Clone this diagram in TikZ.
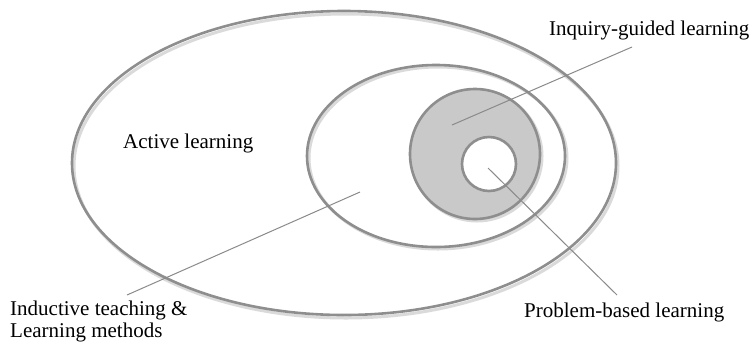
\documentclass[tikz,border=0pt]{standalone}
\usepackage{fontspec}
\setmainfont{Liberation Serif}
\definecolor{ringgray}{HTML}{8E8E8E}
\definecolor{shadowgray}{HTML}{DADADA}
\definecolor{fillgray}{HTML}{C9C9C9}
\definecolor{leadgray}{HTML}{8A8A8A}
\begin{document}
\begin{tikzpicture}[x=1pt,y=-1pt,
  ring/.style={draw=ringgray,line width=2.6pt},
  shade/.style={draw=shadowgray,line width=3pt},
  lead/.style={draw=leadgray,line width=1pt},
  lbl/.style={font=\fontsize{21}{22}\selectfont,inner sep=0pt}]
\useasboundingbox (0,0) rectangle (755,349);
% shadows
\draw[shade] (346,166) ellipse [x radius=272, y radius=152];
\draw[shade] (438,158) ellipse [x radius=129, y radius=91];
\draw[shade] (477,156) circle [radius=65];
\draw[shade] (491,166) circle [radius=27];
% rings
\draw[ring] (344,163) ellipse [x radius=272, y radius=152];
\draw[ring] (436,156) ellipse [x radius=129, y radius=91];
\draw[ring,fill=fillgray] (475,154) circle [radius=65];
\draw[ring,fill=white] (489,164) circle [radius=27];
% labels
\node[lbl,anchor=base west] (active) at (123,148) {Active learning};
\node[lbl,anchor=base west] (inquiry) at (549,35) {Inquiry-guided learning};
\node[lbl,anchor=base west] (problem) at (524,317) {Problem-based learning};
\node[lbl,anchor=base west] (inductive1) at (10,315) {Inductive teaching \&};
\node[lbl,anchor=base west] (inductive2) at (10,337) {Learning methods};
% connector ends
\coordinate (iqA) at (452,125);
\coordinate (iqB) at (632,47);
\coordinate (pbA) at (488,168);
\coordinate (pbB) at (617,295);
\coordinate (inA) at (360,192);
\coordinate (inB) at (127,295);
\draw[lead] (iqA) -- (iqB);
\draw[lead] (pbA) -- (pbB);
\draw[lead] (inA) -- (inB);
\end{tikzpicture}
\end{document}
